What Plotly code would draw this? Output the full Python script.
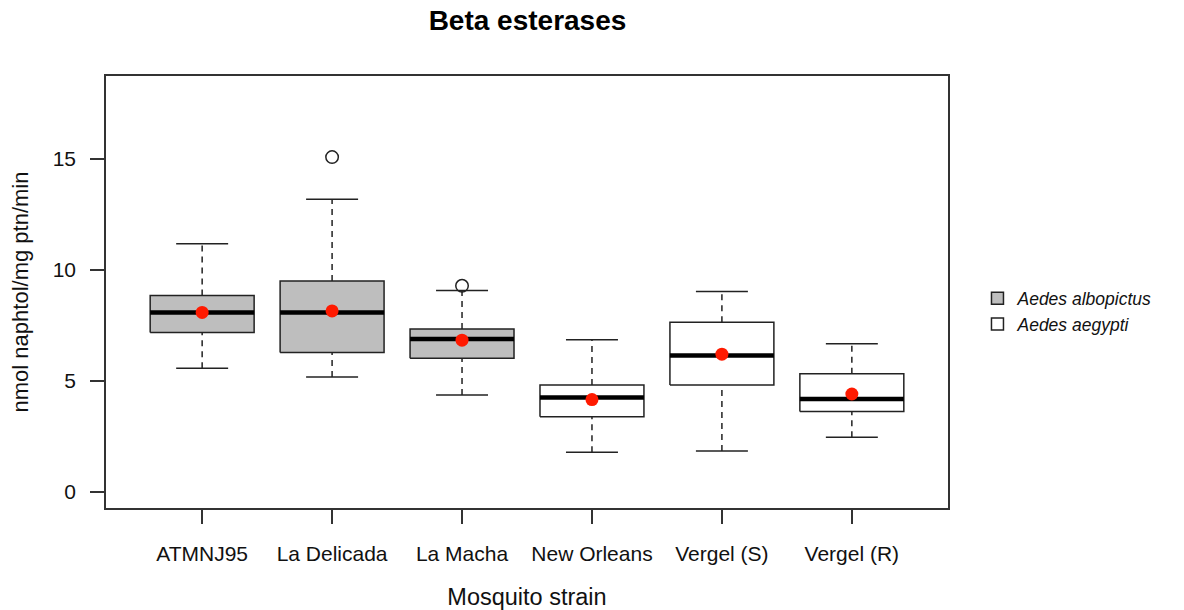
import plotly.graph_objects as go

# Beta esterase activity per mosquito strain (nmol naphtol/mg ptn/min)
strains = ["ATMNJ95", "La Delicada", "La Macha", "New Orleans", "Vergel (S)", "Vergel (R)"]
species = ["albopictus", "albopictus", "albopictus", "aegypti", "aegypti", "aegypti"]
whisker_low = [5.57, 5.17, 4.37, 1.79, 1.85, 2.46]
q1 = [7.18, 6.28, 6.02, 3.39, 4.82, 3.62]
median = [8.08, 8.08, 6.88, 4.25, 6.14, 4.18]
q3 = [8.84, 9.50, 7.33, 4.82, 7.64, 5.32]
whisker_high = [11.17, 13.17, 9.07, 6.85, 9.02, 6.67]
means = [8.08, 8.15, 6.83, 4.16, 6.20, 4.41]
outlier_strain = ["La Delicada", "La Macha"]
outlier_value = [15.07, 9.28]

species_order = ["albopictus", "aegypti"]
species_label = {"albopictus": "<i>Aedes albopictus</i>", "aegypti": "<i>Aedes aegypti</i>"}
species_fill = {"albopictus": "#bebebe", "aegypti": "#ffffff"}

FONT = "Liberation Sans, Arial, Helvetica, sans-serif"
INK = "#222222"
HALF = 0.4      # half box width (boxwex 0.8)
CAP = 0.2       # half whisker-cap width

pos = list(range(1, len(strains) + 1))
fig = go.Figure()

# whiskers (dashed) from box to cap
wx, wy = [], []
for p, lo, a, b, hi in zip(pos, whisker_low, q1, q3, whisker_high):
    wx += [p, p, None, p, p, None]
    wy += [lo, a, None, b, hi, None]
fig.add_trace(go.Scatter(x=wx, y=wy, mode="lines", showlegend=False, hoverinfo="skip",
                         line=dict(color=INK, width=1.5, dash="6px,5px")))

# whisker caps
cx, cy = [], []
for p, lo, hi in zip(pos, whisker_low, whisker_high):
    cx += [p - CAP, p + CAP, None, p - CAP, p + CAP, None]
    cy += [lo, lo, None, hi, hi, None]
fig.add_trace(go.Scatter(x=cx, y=cy, mode="lines", showlegend=False, hoverinfo="skip",
                         line=dict(color=INK, width=1.5)))

# boxes, one filled polygon per strain
for p, a, b, sp in zip(pos, q1, q3, species):
    fig.add_trace(go.Scatter(
        x=[p - HALF, p + HALF, p + HALF, p - HALF, p - HALF],
        y=[a, a, b, b, a],
        mode="lines", fill="toself", fillcolor=species_fill[sp],
        line=dict(color=INK, width=1.5),
        legendgroup=sp, showlegend=False, hoverinfo="skip"))

# medians
mx, my = [], []
for p, m in zip(pos, median):
    mx += [p - HALF, p + HALF, None]
    my += [m, m, None]
fig.add_trace(go.Scatter(x=mx, y=my, mode="lines", showlegend=False, hoverinfo="skip",
                         line=dict(color="#000000", width=4.5)))

# outliers
fig.add_trace(go.Scatter(
    x=[strains.index(s) + 1 for s in outlier_strain], y=outlier_value,
    mode="markers", showlegend=False,
    marker=dict(symbol="circle-open", size=12.5, color=INK, line=dict(width=1.5))))

# means
fig.add_trace(go.Scatter(x=pos, y=means, mode="markers", showlegend=False,
                         marker=dict(symbol="circle", size=13, color="#ff1a00")))

# species legend keys (filled rectangles)
for sp in species_order:
    fig.add_trace(go.Bar(x=[None], y=[None], name=species_label[sp], legendgroup=sp,
                         marker=dict(color=species_fill[sp], line=dict(color=INK, width=1.5))))

axis_common = dict(showgrid=False, zeroline=False, showline=True, mirror=True,
                   automargin=False,
                   linecolor="#333333", linewidth=1.5, ticks="outside", ticklen=14,
                   tickwidth=1.5, tickcolor="#333333",
                   tickfont=dict(family=FONT, size=21, color="#111111"))

fig.update_layout(
    width=1184, height=610,
    margin=dict(l=106, r=236, t=76, b=102),
    paper_bgcolor="white", plot_bgcolor="white",
    title=dict(text="<b>Beta esterases</b>", x=(427 + 628) / 2 / 1184, xanchor="center",
               y=0.967, yanchor="middle", font=dict(family=FONT, size=28, color="#000000")),
    xaxis=dict(type="linear", range=[0.26, 6.74], tickvals=pos, ticktext=strains,
               ticklabelstandoff=12,
               title=dict(text="Mosquito strain", standoff=25,
                          font=dict(family=FONT, size=23.5, color="#111111")),
               **axis_common),
    yaxis=dict(range=[-0.72, 18.72], tickvals=[0, 5, 10, 15], ticklabelstandoff=10,
               title=dict(text="nmol naphtol/mg ptn/min", standoff=18,
                          font=dict(family=FONT, size=22, color="#111111")),
               **axis_common),
    legend=dict(x=1.035, y=0.455, xanchor="left", yanchor="middle",
                font=dict(family=FONT, size=17.5, color="#111111"),
                bgcolor="rgba(0,0,0,0)", tracegroupgap=0, itemwidth=30),
    showlegend=True,
)

fig.write_html("out.html")
